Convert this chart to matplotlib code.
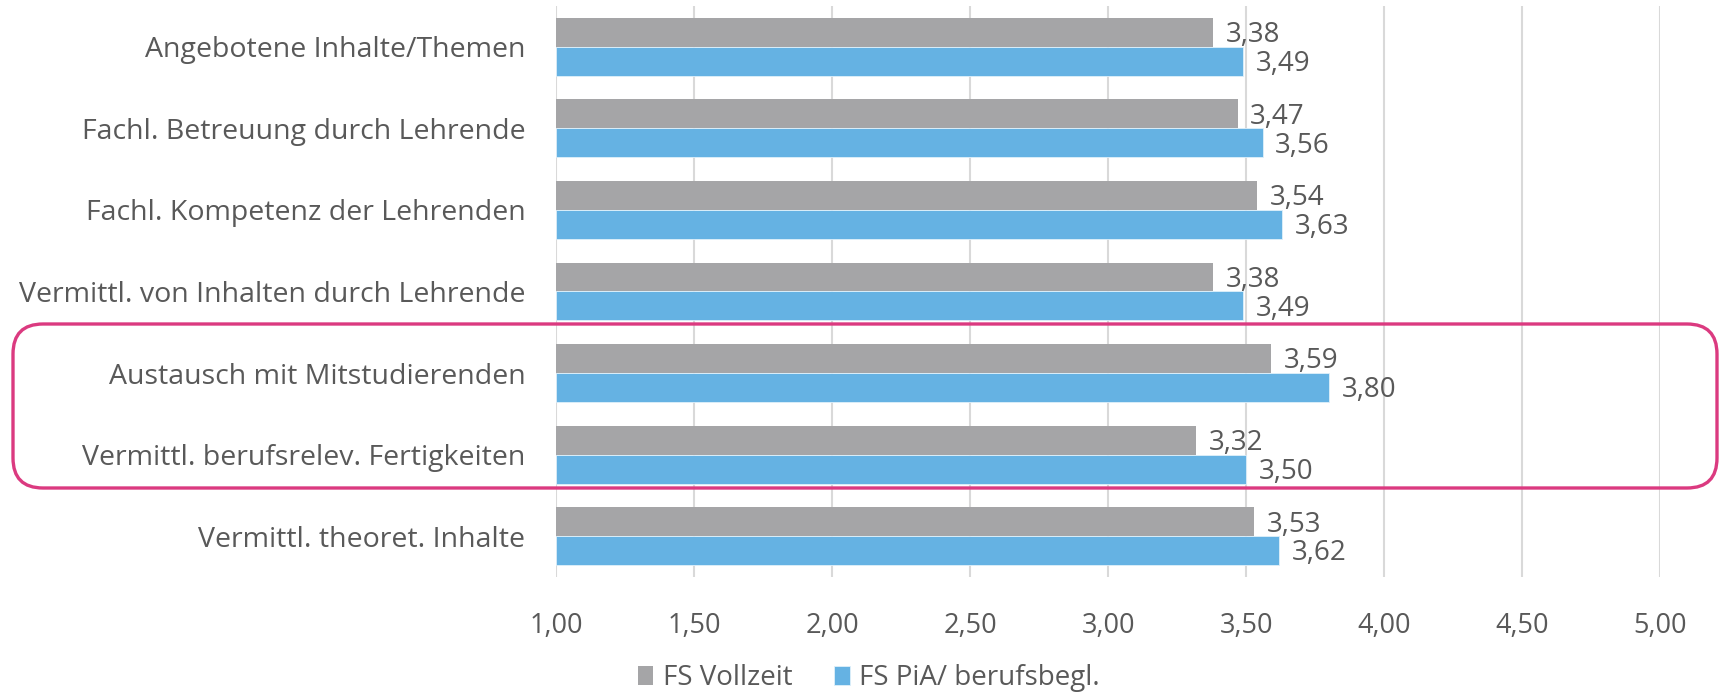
import matplotlib
matplotlib.use("Agg")
import matplotlib.pyplot as plt
from matplotlib.patches import FancyBboxPatch
from matplotlib.transforms import IdentityTransform
from matplotlib.ticker import FuncFormatter

kategorien = [
    "Angebotene Inhalte/Themen",
    "Fachl. Betreuung durch Lehrende",
    "Fachl. Kompetenz der Lehrenden",
    "Vermittl. von Inhalten durch Lehrende",
    "Austausch mit Mitstudierenden",
    "Vermittl. berufsrelev. Fertigkeiten",
    "Vermittl. theoret. Inhalte",
]
vollzeit = [3.38, 3.47, 3.54, 3.38, 3.59, 3.32, 3.53]
pia = [3.49, 3.56, 3.63, 3.49, 3.80, 3.50, 3.62]
serien = ["FS Vollzeit", "FS PiA/ berufsbegl."]
x_ticks = [1.0, 1.5, 2.0, 2.5, 3.0, 3.5, 4.0, 4.5, 5.0]

GRAU = "#A5A5A7"
BLAU = "#65B2E3"
PINK = "#DB3A80"
TEXT = "#595959"
GITTER = "#D9D9D9"

plt.rcParams["font.family"] = ["Open Sans", "DejaVu Sans"]
plt.rcParams["font.size"] = 20

fig = plt.figure(figsize=(17.21, 6.95), dpi=100)
ax = fig.add_axes([0.3231, 0.1698, 0.6415, 0.8216])

h = 0.355
pos = list(range(len(kategorien)))
b1 = ax.barh([p - h / 2 for p in pos], [v - 1 for v in vollzeit], left=1, height=h,
             color=GRAU, label=serien[0], zorder=3)
b2 = ax.barh([p + h / 2 for p in pos], [v - 1 for v in pia], left=1, height=h,
             color=BLAU, edgecolor="#dff0fa", linewidth=0.6, label=serien[1], zorder=3)

def komma(v):
    return f"{v:.2f}".replace(".", ",")

# Werte rechts neben den Balken
for bars, werte in ((b1, vollzeit), (b2, pia)):
    for bar, v in zip(bars, werte):
        ax.annotate(komma(v), (v, bar.get_y() + bar.get_height() / 2),
                    xytext=(9, -2), textcoords="offset points",
                    ha="left", va="center", color=TEXT, fontsize=20)

ax.set_xlim(1, 5)
ax.set_ylim(len(kategorien) - 0.5, -0.5)
ax.set_xticks(x_ticks)
ax.xaxis.set_major_formatter(FuncFormatter(lambda v, p: komma(v)))
ax.set_yticks(pos)
ax.set_yticklabels(kategorien, fontsize=20.5)
ax.tick_params(axis="x", length=0, pad=25, colors=TEXT, labelsize=19.5)
ax.tick_params(axis="y", length=0, pad=22, colors=TEXT)
ax.grid(axis="x", color=GITTER, linewidth=1.5, zorder=0)
for s in ax.spines.values():
    s.set_visible(False)

fig.legend(handles=[b1, b2], labels=serien, loc="center", bbox_to_anchor=(0.505, 0.024),
           ncol=2, frameon=False, fontsize=20, labelcolor=TEXT,
           handlelength=0.55, handleheight=0.7, handletextpad=0.35, columnspacing=1.5,
           borderpad=0.2)

# Hervorhebung der Zeilen 5 und 6
rahmen = FancyBboxPatch((13, 695 - 488), 1704, 164,
                        boxstyle="round,pad=0,rounding_size=30",
                        transform=IdentityTransform(), fill=False,
                        edgecolor=PINK, linewidth=2.4, zorder=5)
fig.add_artist(rahmen)

fig.savefig("out.png", dpi=100)
